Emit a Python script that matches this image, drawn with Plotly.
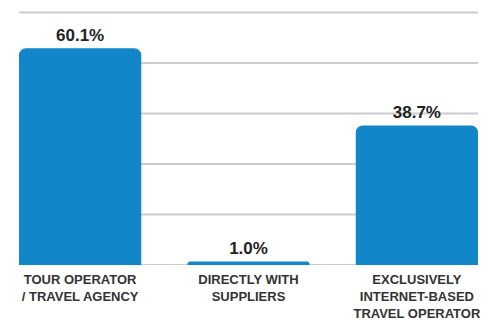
import plotly.graph_objects as go

categories = ["TOUR OPERATOR<br>/ TRAVEL AGENCY", "DIRECTLY WITH<br>SUPPLIERS", "EXCLUSIVELY<br>INTERNET-BASED<br>TRAVEL OPERATOR"]
values = [60.1, 1.0, 38.7]
labels = ["60.1%", "1.0%", "38.7%"]
grid_vals = [0, 14, 28, 42, 56, 70]

fig = go.Figure(go.Bar(
    x=categories, y=values, text=labels, textposition="outside",
    marker=dict(color="#1187c9", line=dict(width=0)),
    textfont=dict(family="Liberation Sans, Arial", size=17, color="#222222", weight="bold"),
    cliponaxis=False,
))
for g in grid_vals:
    fig.add_shape(type="line", xref="paper", yref="y", x0=0, x1=1, y0=g, y1=g,
                  line=dict(color="#cccccc", width=2),
                  layer="above" if g == grid_vals[-1] else "below")
fig.update_layout(
    width=488, height=320,
    margin=dict(l=19, r=10, t=5, b=55, autoexpand=False),
    paper_bgcolor="white", plot_bgcolor="white",
    bargap=0.274, barcornerradius=7,
    showlegend=False,
    font=dict(family="Liberation Sans, Arial", color="#333333"),
)
fig.update_yaxes(range=[0, 72.08], showticklabels=False, showgrid=False,
                 zeroline=False, automargin=False)
fig.update_xaxes(range=[-0.363, 2.363], tickfont=dict(size=13, color="#333333", weight="bold"),
                 showline=False, ticks="", ticklabelstandoff=5, automargin=False)
fig.write_html("out.html", config={"displayModeBar": False})
